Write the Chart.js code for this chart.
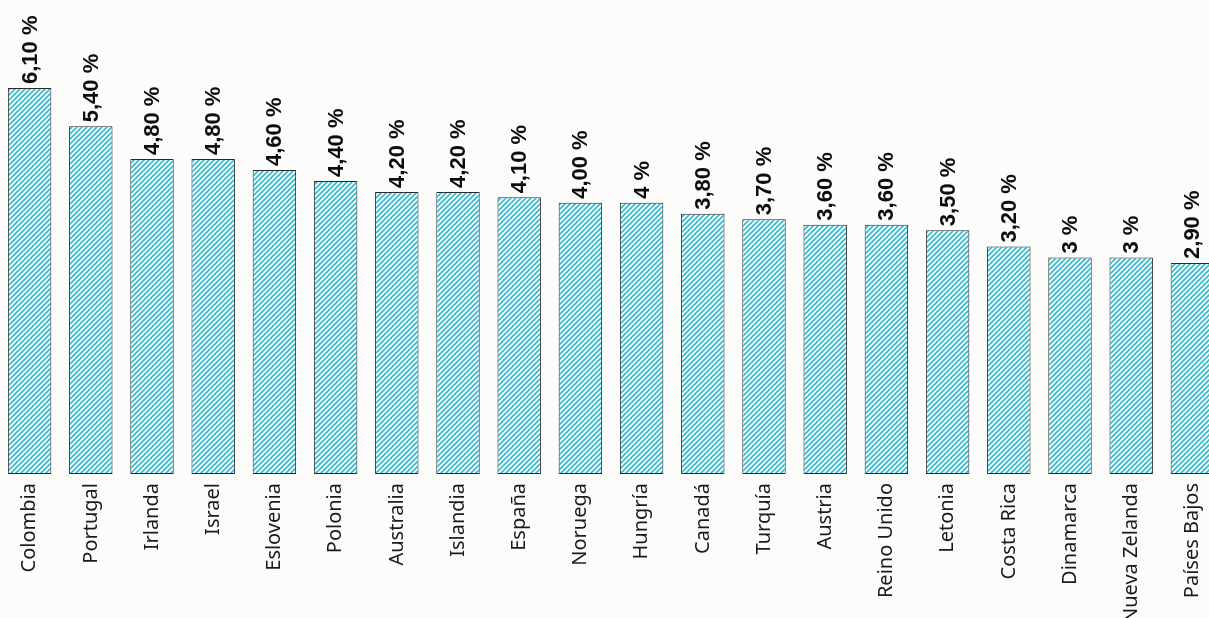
<!DOCTYPE html>
<html>
<head>
<meta charset="utf-8">
<script src="https://cdn.jsdelivr.net/npm/chart.js@4"></script>
<style>
  html, body { margin: 0; padding: 0; background: #fcfcfa; overflow: hidden; }
  #wrap { position: absolute; left: -1px; top: 0; width: 1224px; height: 618px; }
</style>
</head>
<body>
<div id="wrap"><canvas id="tasas"></canvas></div>
<script>
const paises = [
  "Colombia", "Portugal", "Irlanda", "Israel", "Eslovenia", "Polonia",
  "Australia", "Islandia", "España", "Noruega", "Hungría", "Canadá",
  "Turquía", "Austria", "Reino Unido", "Letonia", "Costa Rica",
  "Dinamarca", "Nueva Zelanda", "Países Bajos",
];

const valores = [6.1, 5.4, 4.8, 4.8, 4.6, 4.4, 4.2, 4.2, 4.1, 4.0, 4, 3.8, 3.7, 3.6, 3.6, 3.5, 3.2, 3, 3, 2.9];

const etiquetas = [
  "6,10 %", "5,40 %", "4,80 %", "4,80 %", "4,60 %", "4,40 %", "4,20 %",
  "4,20 %", "4,10 %", "4,00 %", "4 %", "3,80 %", "3,70 %", "3,60 %",
  "3,60 %", "3,50 %", "3,20 %", "3 %", "3 %", "2,90 %",
];

// rayado diagonal de las barras
function rayado() {
  const c = document.createElement("canvas");
  c.width = 5;
  c.height = 5;
  const g = c.getContext("2d");
  g.fillStyle = "#ffffff";
  g.fillRect(0, 0, 5, 5);
  g.strokeStyle = "#38bcd4";
  g.lineWidth = 1.8;
  g.beginPath();
  g.moveTo(-1, 6); g.lineTo(6, -1);
  g.moveTo(-4, 4); g.lineTo(4, -4);
  g.moveTo(1, 9); g.lineTo(9, 1);
  g.stroke();
  return g.createPattern(c, "repeat");
}

const etiquetasValor = {
  id: "etiquetasValor",
  afterDatasetsDraw(chart) {
    const ctx = chart.ctx;
    const meta = chart.getDatasetMeta(0);
    ctx.save();
    ctx.fillStyle = "#0d0d0d";
    ctx.font = "bold 22px 'Liberation Sans', Arial, sans-serif";
    ctx.textBaseline = "middle";
    ctx.textAlign = "left";
    meta.data.forEach((bar, i) => {
      ctx.save();
      ctx.translate(bar.x + 1, bar.y - 4);
      ctx.rotate(-Math.PI / 2);
      ctx.fillText(etiquetas[i], 0, 0);
      ctx.restore();
    });
    ctx.restore();
  },
};

const ctx = document.getElementById("tasas");

new Chart(ctx, {
  type: "bar",
  data: {
    labels: paises,
    datasets: [
      {
        data: valores,
        base: -0.96,
        backgroundColor: rayado(),
        borderColor: "#2a2a2a",
        borderWidth: 1,
        borderSkipped: false,
        barPercentage: 0.71,
        categoryPercentage: 1,
      },
    ],
  },
  options: {
    responsive: true,
    maintainAspectRatio: false,
    animation: false,
    layout: { padding: 0 },
    plugins: {
      legend: { display: false },
      tooltip: { enabled: false },
    },
    scales: {
      x: {
        grid: { display: false },
        border: { display: false },
        ticks: {
          minRotation: 90,
          maxRotation: 90,
          autoSkip: false,
          padding: 1,
          color: "#1a1a1a",
          font: { family: "'Noto Sans', sans-serif", size: 20 },
        },
        afterFit(axis) {
          axis.height = 144;
        },
      },
      y: {
        display: false,
        min: -0.96,
        max: 7.71,
      },
    },
  },
  plugins: [etiquetasValor],
});
</script>
</body>
</html>
